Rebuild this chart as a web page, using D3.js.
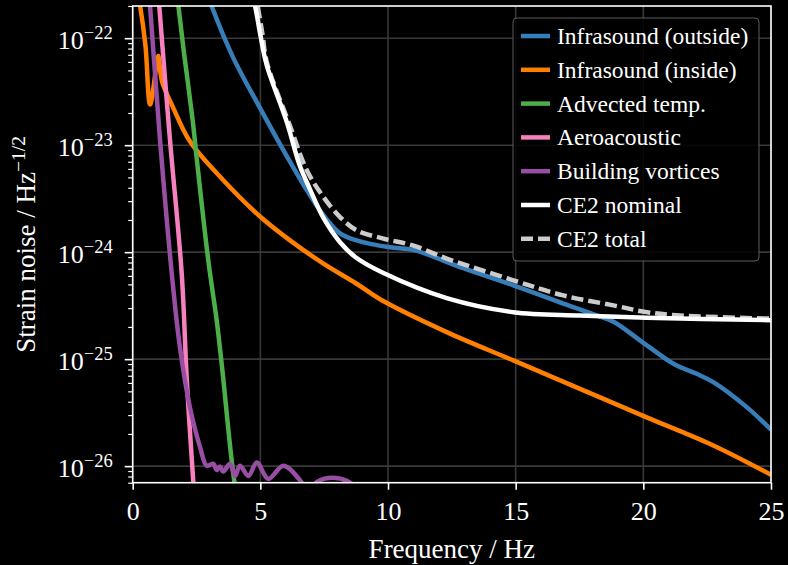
<!DOCTYPE html>
<html lang="en">
<head>
    <meta charset="UTF-8">
    <title>Wind-induced strain noise</title>
    <script src="https://d3js.org/d3.v7.min.js"></script>
    <style>
        html, body { margin: 0; padding: 0; background: #000; }
        svg { display: block; }
    </style>
</head>
<body>
    <svg id="chart"></svg>
    <script>
    // Curves (frequency in Hz, strain in 1/sqrt(Hz))
    const seriesNames = ["Infrasound (outside)", "Infrasound (inside)", "Advected temp.",
                         "Aeroacoustic", "Building vortices", "CE2 nominal", "CE2 total"];

    const outsideF = [2.9, 3.09, 3.94, 4.99, 5.9, 6.82, 7.47, 8.12, 8.77, 10.08, 10.99,
                      12.95, 14.91, 16.87, 18.17, 18.83, 19.87, 21.18, 22.09, 22.74, 24.05, 25];
    const outsideH = [2.7e-22, 2.0e-22, 6.55e-23, 2.22e-23, 9.0e-24, 3.8e-24, 2.22e-24, 1.5e-24,
                      1.29e-24, 1.11e-24, 1.05e-24, 7.08e-25, 4.9e-25, 3.31e-25,
                      2.57e-25, 2.24e-25, 1.5e-25, 9.06e-26, 7.29e-26, 6.1e-26, 3.56e-26, 2.19e-26];

    const insideF = [0.2, 0.29, 0.5, 0.68, 0.95, 1.0, 1.15, 1.54, 2.245, 3.55, 5.01, 6.16, 7.47, 8.77,
                     9.69, 12.3, 14.91, 17.52, 20.13, 22.74, 25];
    const insideH = [2.6e-22, 2.0e-22, 8.5e-23, 2.4e-23, 6.0e-23, 6.8e-23, 3.93e-23, 2.37e-23, 1.08e-23,
                     4.71e-24, 2.13e-24, 1.29e-24, 7.82e-25, 5.07e-25, 3.63e-25, 1.79e-25, 9.73e-26,
                     5.28e-26, 2.86e-26, 1.56e-26, 8.3e-27];

    const tempF = [1.7, 1.79, 2.0, 2.35, 2.5, 2.96, 3.29, 3.5, 3.94, 4.2];
    const tempH = [3.0e-22, 2.0e-22, 7.6e-23, 1.7e-23, 7.8e-24, 8.4e-25, 2.3e-25, 8.4e-26, 8.45e-27, 3.5e-27];

    const aeroF = [1.0, 1.04, 1.46, 1.92, 2.12, 2.37, 2.45];
    const aeroH = [2.7e-22, 2.0e-22, 1.12e-23, 6.3e-25, 6.3e-26, 7.3e-27, 4.0e-27];

    const vortexF = [0.6, 0.678, 1.07, 1.53, 1.85, 2.24, 2.64, 2.9, 3.16, 3.29, 3.42, 3.55, 3.81, 4.01,
                     4.2, 4.53, 4.86, 5.31, 5.9, 6.55, 6.9, 7.21, 7.86, 8.51, 9.0];
    const vortexH = [3.0e-22, 2.0e-22, 1.12e-23, 6.31e-25, 1.29e-25, 3.56e-26, 1.5e-26, 1.01e-26,
                     1.05e-26, 9.2e-27, 9.9e-27, 8.9e-27, 1.05e-26, 8.1e-27, 1.01e-26, 8.1e-27,
                     1.08e-26, 7.6e-27, 1.01e-26, 7.4e-27, 5.5e-27, 7.1e-27, 7.8e-27, 7.0e-27, 5.0e-27];

    const nominalF = [4.6, 4.79, 5.0, 5.25, 6.03, 6.55, 6.94, 7.47, 8.12, 8.77, 9.82, 12.3, 14.91, 17.52, 20.13, 25];
    const nominalH = [2.8e-22, 2.0e-22, 1.07e-22, 5.6e-23, 1.66e-23, 6.38e-24, 3.89e-24, 2.09e-24, 1.24e-24,
                      8.81e-25, 6.38e-25, 3.72e-25, 2.75e-25, 2.56e-25, 2.44e-25, 2.31e-25];

    const totalF = [4.68, 4.88, 5.08, 5.25, 6.16, 6.82, 7.47, 8.12, 8.77, 9.82, 11.0, 12.3, 14.91, 16.87,
                    18.83, 20.13, 21.44, 25];
    const totalH = [2.8e-22, 2.0e-22, 1.1e-22, 6.0e-23, 1.52e-23, 5.83e-24, 3.28e-24, 2.13e-24, 1.6e-24,
                    1.34e-24, 1.15e-24, 8.71e-25, 5.46e-25, 3.94e-25, 3.18e-25, 2.75e-25, 2.56e-25, 2.39e-25];

    const xTicks = [0, 5, 10, 15, 20, 25];
    const yTickExp = [-26, -25, -24, -23, -22];

    const serif = '"Liberation Serif", "Times New Roman", "DejaVu Serif", serif';
    const width = 788, height = 565;
    const margin = {top: 6, right: 17, bottom: 82.3, left: 132.7};

    const svg = d3.select('#chart').attr('width', width).attr('height', height);
    svg.append('rect').attr('width', width).attr('height', height).attr('fill', '#000');

    const x = d3.scaleLinear().domain([0, 25]).range([margin.left, width - margin.right]);
    const y = d3.scaleLog().domain([7e-27, 2e-22]).range([height - margin.bottom, margin.top]);

    // grid
    const grid = svg.append('g');
    grid.selectAll('line.gx').data(xTicks).enter().append('line')
        .attr('x1', d => x(d)).attr('x2', d => x(d))
        .attr('y1', y.range()[1]).attr('y2', y.range()[0])
        .attr('stroke', '#383838').attr('stroke-width', 1.6);
    grid.selectAll('line.gy').data(yTickExp).enter().append('line')
        .attr('x1', x.range()[0]).attr('x2', x.range()[1])
        .attr('y1', d => y(Math.pow(10, d))).attr('y2', d => y(Math.pow(10, d)))
        .attr('stroke', '#383838').attr('stroke-width', 1.6);

    // clip to plot area
    svg.append('clipPath').attr('id', 'plot-clip').append('rect')
        .attr('x', x.range()[0]).attr('y', y.range()[1])
        .attr('width', x.range()[1] - x.range()[0])
        .attr('height', y.range()[0] - y.range()[1]);

    const series = [
        {name: seriesNames[0], f: outsideF, h: outsideH, color: '#377eb8', z: 0},
        {name: seriesNames[1], f: insideF, h: insideH, color: '#ff7f00', z: 1},
        {name: seriesNames[2], f: tempF, h: tempH, color: '#4daf4a', z: 2},
        {name: seriesNames[3], f: aeroF, h: aeroH, color: '#f781bf', z: 3},
        {name: seriesNames[4], f: vortexF, h: vortexH, color: '#984ea3', z: 4},
        {name: seriesNames[5], f: nominalF, h: nominalH, color: '#ffffff', z: 6},
        {name: seriesNames[6], f: totalF, h: totalH, color: '#cccccc', dash: '12,5', z: 5}
    ];

    const line = d3.line()
        .x(d => x(d[0]))
        .y(d => y(d[1]))
        .curve(d3.curveCatmullRom.alpha(0.5));

    const plot = svg.append('g').attr('clip-path', 'url(#plot-clip)');
    series.slice().sort((a, b) => a.z - b.z).forEach(s => {
        plot.append('path')
            .datum(d3.zip(s.f, s.h))
            .attr('d', line)
            .attr('fill', 'none')
            .attr('stroke', s.color)
            .attr('stroke-width', 4.5)
            .attr('stroke-linejoin', 'round')
            .attr('stroke-dasharray', s.dash || null);
    });

    // axes
    const xAxis = svg.append('g')
        .attr('transform', `translate(0,${y.range()[0]})`)
        .call(d3.axisBottom(x).tickValues(xTicks).tickSize(7).tickSizeOuter(0).tickPadding(12));
    xAxis.select('.domain').remove();
    xAxis.selectAll('.tick line').attr('stroke', '#fff').attr('stroke-width', 1.6);
    xAxis.selectAll('.tick text')
        .attr('font-size', 26).attr('fill', '#fff')
        .style('font-family', serif);

    const majorY = yTickExp.map(e => Math.pow(10, e));
    const minorY = [];
    for (let e = -27; e <= -22; e++) {
        for (let m = 2; m <= 9; m++) {
            const v = m * Math.pow(10, e);
            if (v >= 7e-27 * 0.999 && v <= 2e-22 * 1.001) minorY.push(v);
        }
    }
    const yMinor = svg.append('g')
        .attr('transform', `translate(${x.range()[0]},0)`)
        .call(d3.axisLeft(y).tickValues(minorY).tickSize(4.5).tickSizeOuter(0).tickFormat(''));
    yMinor.select('.domain').remove();
    yMinor.selectAll('.tick line').attr('stroke', '#fff').attr('stroke-width', 1.2);

    const yMajor = svg.append('g')
        .attr('transform', `translate(${x.range()[0]},0)`)
        .call(d3.axisLeft(y).tickValues(majorY).tickSize(8).tickSizeOuter(0).tickFormat(''));
    yMajor.select('.domain').remove();
    yMajor.selectAll('.tick line').attr('stroke', '#fff').attr('stroke-width', 1.6);

    yMajor.selectAll('.tick').each(function(d) {
        const t = d3.select(this).append('text')
            .attr('x', -20).attr('y', 10)
            .attr('text-anchor', 'end')
            .attr('fill', '#fff')
            .attr('font-size', 26)
            .style('font-family', serif);
        t.append('tspan').text('10');
        t.append('tspan').attr('dy', -10).attr('font-size', 18.5)
            .text('\u2212' + Math.abs(Math.round(Math.log10(d))));
    });

    // spines
    svg.append('rect')
        .attr('x', x.range()[0]).attr('y', y.range()[1])
        .attr('width', x.range()[1] - x.range()[0])
        .attr('height', y.range()[0] - y.range()[1])
        .attr('fill', 'none').attr('stroke', '#fff').attr('stroke-width', 1.6);

    // axis labels
    svg.append('text')
        .attr('x', (x.range()[0] + x.range()[1]) / 2).attr('y', 558)
        .attr('text-anchor', 'middle').attr('font-size', 27).attr('fill', '#fff')
        .style('font-family', serif)
        .text('Frequency / Hz');

    const yl = svg.append('text')
        .attr('transform', `translate(35,${(y.range()[0] + y.range()[1]) / 2}) rotate(-90)`)
        .attr('text-anchor', 'middle').attr('font-size', 27).attr('fill', '#fff')
        .style('font-family', serif);
    yl.append('tspan').text('Strain noise / Hz');
    yl.append('tspan').attr('dy', -10).attr('font-size', 19.5).text('\u22121/2');

    // legend
    const lg = svg.append('g').attr('transform', 'translate(513,18)');
    lg.append('rect')
        .attr('width', 246).attr('height', 243).attr('rx', 4)
        .attr('fill', '#000').attr('fill-opacity', 0.85)
        .attr('stroke', '#5a5a5a').attr('stroke-width', 1);
    series.forEach((s, i) => {
        const cy = 18 + i * 33.8;
        lg.append('line')
            .attr('x1', 8).attr('x2', 37).attr('y1', cy).attr('y2', cy)
            .attr('stroke', s.color).attr('stroke-width', 4.5)
            .attr('stroke-dasharray', s.dash || null);
        lg.append('text')
            .attr('x', 44).attr('y', cy + 8)
            .attr('font-size', 23.5).attr('fill', '#fff')
            .style('font-family', serif)
            .text(s.name);
    });
    </script>
</body>
</html>
